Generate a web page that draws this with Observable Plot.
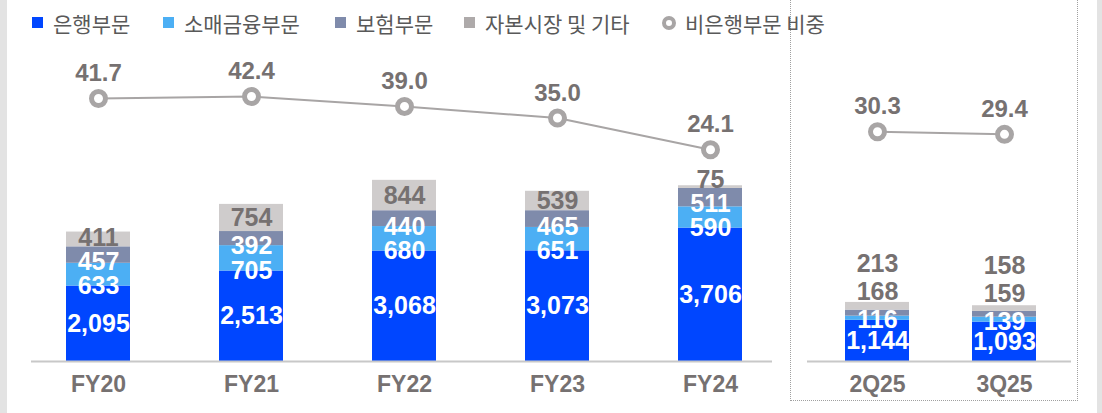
<!DOCTYPE html>
<html>
<head>
<meta charset="utf-8">
<script src="https://cdn.jsdelivr.net/npm/d3@7"></script>
<script src="https://cdn.jsdelivr.net/npm/@observablehq/plot@0.6"></script>
<style>
  body { margin: 0; background: #fff; width: 1102px; height: 413px; overflow: hidden; position: relative; font-family: "Liberation Sans", Arial, sans-serif; }
  .strip { position: absolute; top: 0; height: 413px; background: #e3e3e3; }
  #legend { position: absolute; left: 0; top: 0; width: 1102px; height: 45px; font-family: "Noto Sans CJK KR", sans-serif; font-size: 21px; color: #595959; }
  .item { position: absolute; top: 10px; height: 25px; display: flex; align-items: center; white-space: nowrap; }
  .sw { width: 11px; height: 11px; margin-right: 10px; flex: none; }
  .ring { width: 6px; height: 6px; border: 4px solid #a8a5a5; border-radius: 50%; margin-right: 9px; flex: none; }
  #box { position: absolute; left: 790px; top: -5px; width: 288px; height: 406px; border: 1px dotted #a0a0a0; box-sizing: border-box; }
  .panel { position: absolute; top: 40px; }
</style>
</head>
<body>
<div class="strip" style="left:0;width:7px"></div>
<div class="strip" style="left:1097px;width:5px"></div>
<div id="box"></div>
<div id="legend"></div>
<div id="left" class="panel" style="left:0"></div>
<div id="right" class="panel" style="left:790px"></div>
<script>
// ---- data ----
const categories = ["FY20", "FY21", "FY22", "FY23", "FY24", "2Q25", "3Q25"];
const annualCats = ["FY20", "FY21", "FY22", "FY23", "FY24"];
const quarterCats = ["2Q25", "3Q25"];
const bank      = [2095, 2513, 3068, 3073, 3706, 1144, 1093];
const retail    = [633, 705, 680, 651, 590, 116, 139];
const insurance = [457, 392, 440, 465, 511, 168, 159];
const capital   = [411, 754, 844, 539, 75, 213, 158];
const ratio     = [41.7, 42.4, 39.0, 35.0, 24.1, 30.3, 29.4];
const seriesNames = ["은행부문", "소매금융부문", "보험부문", "자본시장 및 기타"];
const lineName = "비은행부문 비중";

// ---- styles ----
const barColors = ["#0046ff", "#4caff4", "#7f8bab", "#cfcccc"];
const legendColors = ["#0046ff", "#4caff4", "#7f8bab", "#aeaaaa"];
const labelGray = "#767171";
const lineGray = "#a8a5a5";
const Y_MAX = 8000;
const H = 373, MT = 33, MB = 52;
const pxPerUnit = (H - MT - MB) / Y_MAX;
const ratioY = d3.scaleLinear().domain([0, 50]).range([3933, 7975]);

const seriesValues = [bank, retail, insurance, capital];

function rowsFor(cats) {
  const rows = [];
  for (const c of cats) {
    const i = categories.indexOf(c);
    seriesNames.forEach((s, k) => rows.push({cat: c, series: s, value: seriesValues[k][i]}));
  }
  return rows;
}

function labelsFor(cats, gapPx) {
  const out = [];
  for (const c of cats) {
    const i = categories.indexOf(c);
    let y0 = 0, prev = null;
    seriesValues.forEach((arr, k) => {
      const v = arr[i];
      const y1 = y0 + v;
      let ly = (k === 0 || k === 3) ? (y0 + y1) / 2 : y0;
      if (k >= 2 && prev != null) ly = Math.max(ly, prev + gapPx / pxPerUnit);
      const inside = k < 3 && ly <= y1;
      out.push({cat: c, y: ly, text: d3.format(",")(v), white: inside});
      prev = ly; y0 = y1;
    });
  }
  return out;
}

function lineFor(cats) {
  return cats.map(c => ({cat: c, ratio: ratio[categories.indexOf(c)]}));
}

function panel(cats, opts) {
  const pi = 1 - 64 / opts.step;
  const labels = labelsFor(cats, opts.gap);
  const lineRows = lineFor(cats);
  return Plot.plot({
    width: opts.width, height: H,
    marginTop: MT, marginBottom: MB, marginLeft: opts.marginLeft, marginRight: opts.marginRight,
    x: {type: "band", domain: cats, range: opts.xRange, paddingInner: pi, paddingOuter: pi / 2, label: null},
    y: {domain: [0, Y_MAX], axis: null},
    color: {domain: seriesNames, range: barColors},
    style: {fontFamily: "'Liberation Sans', Arial, sans-serif", color: labelGray, background: "transparent", overflow: "visible"},
    marks: [
      Plot.barY(rowsFor(cats), {x: "cat", y: "value", fill: "series"}),
      Plot.ruleY([0], {stroke: "#c8c8c8", strokeWidth: 2}),
      Plot.text(labels.filter(d => d.white), {x: "cat", y: "y", text: "text", fill: "#ffffff", fontSize: 25, fontWeight: "bold"}),
      Plot.text(labels.filter(d => !d.white), {x: "cat", y: "y", text: "text", fill: labelGray, fontSize: 25, fontWeight: "bold"}),
      Plot.line(lineRows, {x: "cat", y: d => ratioY(d.ratio), stroke: lineGray, strokeWidth: 2}),
      Plot.dot(lineRows, {x: "cat", y: d => ratioY(d.ratio), r: 7, fill: "#ffffff", stroke: lineGray, strokeWidth: 5}),
      Plot.text(lineRows, {x: "cat", y: d => ratioY(d.ratio), text: d => d.ratio.toFixed(1), dy: -25, fill: labelGray, fontSize: 24, fontWeight: "bold"}),
      Plot.axisX({tickSize: 0, tickPadding: 14, fontSize: 23, fontWeight: "bold", label: null})
    ]
  });
}

document.getElementById("left").append(panel(annualCats, {
  width: 790, marginLeft: 31, marginRight: 18, xRange: [20.25, 787.75], step: 153.5, gap: 24
}));
document.getElementById("right").append(panel(quarterCats, {
  width: 312, marginLeft: 17, marginRight: 31, xRange: [23.5, 277.5], step: 127, gap: 28
}));

// ---- legend ----
const legend = document.getElementById("legend");
const itemX = [32, 163, 335, 464];
seriesNames.forEach((s, k) => {
  const it = document.createElement("div");
  it.className = "item";
  it.style.left = itemX[k] + "px";
  const sw = document.createElement("span");
  sw.className = "sw";
  sw.style.background = legendColors[k];
  const tx = document.createElement("span");
  tx.textContent = s;
  it.append(sw, tx);
  legend.append(it);
});
{
  const it = document.createElement("div");
  it.className = "item";
  it.style.left = "662px";
  const rg = document.createElement("span");
  rg.className = "ring";
  const tx = document.createElement("span");
  tx.textContent = lineName;
  it.append(rg, tx);
  legend.append(it);
}
</script>
</body>
</html>
